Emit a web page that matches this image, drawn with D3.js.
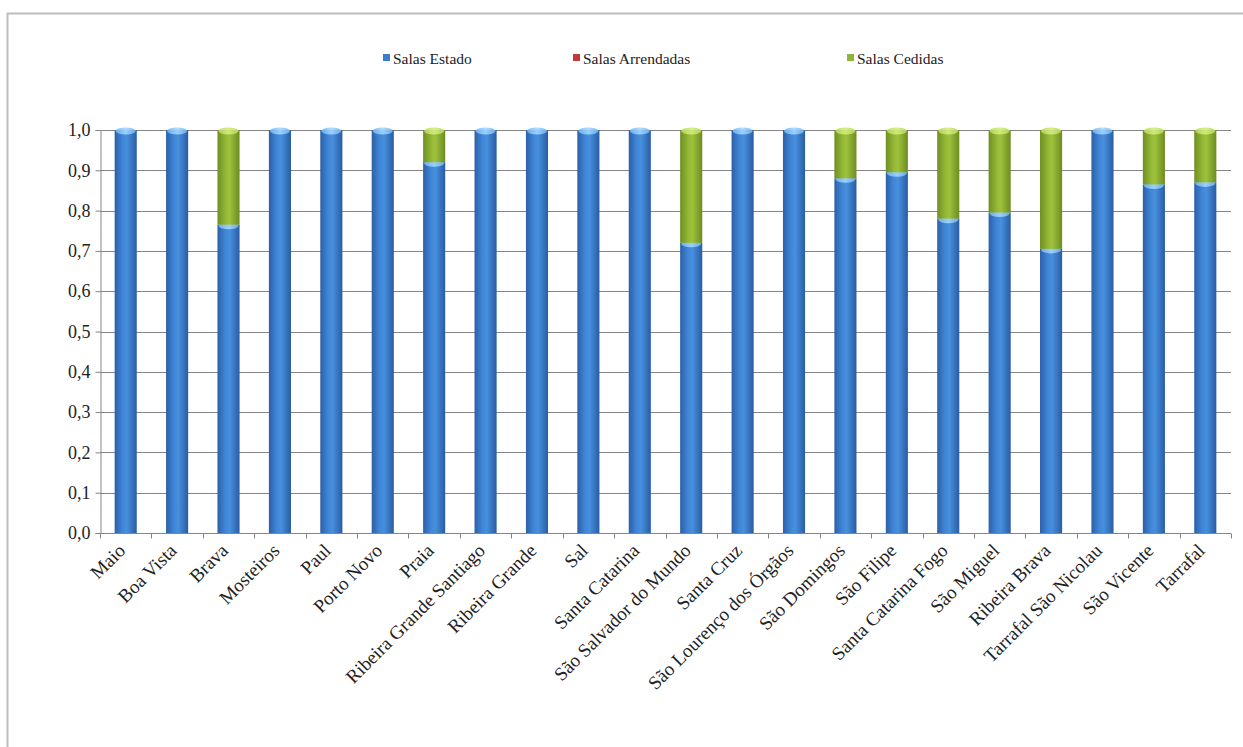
<!DOCTYPE html>
<html><head><meta charset="utf-8">
<script src="https://cdn.jsdelivr.net/npm/d3@7/dist/d3.min.js"></script>
<style>
html,body{margin:0;padding:0;background:#fff;}
svg{display:block;}
svg text{font-family:"Liberation Serif","Times New Roman",serif;fill:#222;}
</style></head>
<body>
<svg id="chart" width="1243" height="747"></svg>
<script>
const categories = ["Maio","Boa Vista","Brava","Mosteiros","Paul","Porto Novo","Praia","Ribeira Grande Santiago","Ribeira Grande","Sal","Santa Catarina","São Salvador do Mundo","Santa Cruz","São Lourenço dos Órgãos","São Domingos","São Filipe","Santa Catarina Fogo","São Miguel","Ribeira Brava","Tarrafal São Nicolau","São Vicente","Tarrafal"];
const salasEstado     = [1,1,0.765,1,1,1,0.92,1,1,1,1,0.72,1,1,0.88,0.895,0.78,0.795,0.705,1,0.865,0.87];
const salasArrendadas = [0,0,0,0,0,0,0,0,0,0,0,0,0,0,0,0,0,0,0,0,0,0];
const salasCedidas    = [0,0,0.235,0,0,0,0.08,0,0,0,0,0.28,0,0,0.12,0.105,0.22,0.205,0.295,0,0.135,0.13];
const seriesNames = ["Salas Estado","Salas Arrendadas","Salas Cedidas"];
const yTicks = [0,0.1,0.2,0.3,0.4,0.5,0.6,0.7,0.8,0.9,1.0];

const svg = d3.select("#chart");
// frame
svg.append("path").attr("d","M7.5,747 V13.5 H1243").attr("fill","none").attr("stroke","#bdbdbd").attr("stroke-width",2);

const left = 100, right = 1231;
const x = d3.scaleBand().domain(categories).range([left, right]).paddingInner(0.57).paddingOuter(0.285);
const y = d3.scaleLinear().domain([0,1]).range([533,130]);

// gradients
const defs = svg.append("defs");
function grad(id, stops){
  const g = defs.append("linearGradient").attr("id",id).attr("x1","0").attr("x2","1").attr("y1","0").attr("y2","0");
  stops.forEach(s=>g.append("stop").attr("offset",s[0]).attr("stop-color",s[1]));
}
grad("gBlue",[[0,"#2c5fa8"],[0.35,"#3f86d6"],[0.55,"#4790de"],[1,"#2a5ca3"]]);
grad("gRed",[[0,"#8e2a2a"],[0.45,"#d04545"],[1,"#8e2a2a"]]);
grad("gGreen",[[0,"#6f8f22"],[0.4,"#97bb38"],[0.55,"#9ec13c"],[1,"#6d8c22"]]);
grad("gBlueCap",[[0,"#6fb4f0"],[0.5,"#a6d6ff"],[1,"#6fb4f0"]]);
grad("gGreenCap",[[0,"#b7d85a"],[0.5,"#d4ec80"],[1,"#b7d85a"]]);

// gridlines
svg.append("g").selectAll("line").data(yTicks).join("line")
  .attr("x1",left).attr("x2",right)
  .attr("y1",d=>Math.round(y(d))+0.5).attr("y2",d=>Math.round(y(d))+0.5)
  .attr("stroke","#858585").attr("stroke-width",1);

// y axis
const yAxis = d3.axisLeft(y).tickValues(yTicks).tickSize(5).tickFormat(d=>d3.format(".1f")(d).replace(".",","));
const ya = svg.append("g").attr("transform",`translate(${left+0.5},0)`).call(yAxis);
ya.attr("font-family",null).attr("font-size",null);
ya.select(".domain").attr("stroke","#858585");
ya.selectAll(".tick line").attr("stroke","#858585");
ya.selectAll(".tick text").style("font-size","18px").attr("dx",-2).attr("fill","#222");

// stacked data
const rows = categories.map((c,i)=>({cat:c, "Salas Estado":salasEstado[i], "Salas Arrendadas":salasArrendadas[i], "Salas Cedidas":salasCedidas[i]}));
const stack = d3.stack().keys(seriesNames)(rows);
const fills = {"Salas Estado":"url(#gBlue)","Salas Arrendadas":"url(#gRed)","Salas Cedidas":"url(#gGreen)"};
const caps = {"Salas Estado":"url(#gBlueCap)","Salas Arrendadas":"url(#gRed)","Salas Cedidas":"url(#gGreenCap)"};
const bw = x.bandwidth();
stack.forEach(layer=>{
  const g = svg.append("g");
  const segs = layer.filter(d=>d[1]-d[0]>0);
  g.selectAll("rect").data(segs).join("rect")
    .attr("x",d=>x(d.data.cat)).attr("width",bw)
    .attr("y",d=>y(d[1])).attr("height",d=>y(d[0])-y(d[1]))
    .attr("fill",fills[layer.key]);
  g.selectAll("ellipse").data(segs).join("ellipse")
    .attr("cx",d=>x(d.data.cat)+bw/2).attr("cy",d=>y(d[1])+1)
    .attr("rx",bw/2-1).attr("ry",3.5)
    .attr("fill",caps[layer.key]).attr("opacity",0.9);
});

// x axis
const xa = svg.append("g").attr("transform",`translate(0,${Math.round(y(0))+0.5})`);
xa.append("line").attr("x1",left).attr("x2",right).attr("stroke","#858585");
const bounds = d3.range(categories.length+1).map(i=>left + i*x.step());
xa.selectAll("line.t").data(bounds).join("line").attr("class","t")
  .attr("x1",d=>Math.round(d)+0.5).attr("x2",d=>Math.round(d)+0.5).attr("y1",0).attr("y2",5).attr("stroke","#858585");
svg.append("g").selectAll("text").data(categories).join("text")
  .attr("transform",d=>`translate(${x(d)+bw/2-6},${y(0)+12}) rotate(-45)`)
  .attr("text-anchor","end").attr("dy","0.5em")
  .style("font-size","19px")
  .text(d=>d);

// legend
const legendX = [383, 573, 847];
const legendCols = ["#3a7ccc","#c0393b","#8fb43a"];
const lg = svg.append("g");
seriesNames.forEach((s,i)=>{
  lg.append("rect").attr("x",legendX[i]).attr("y",54).attr("width",7).attr("height",7).attr("fill",legendCols[i]);
  lg.append("text").attr("x",legendX[i]+10).attr("y",64).style("font-size","15.5px").text(s);
});
</script>
</body></html>
